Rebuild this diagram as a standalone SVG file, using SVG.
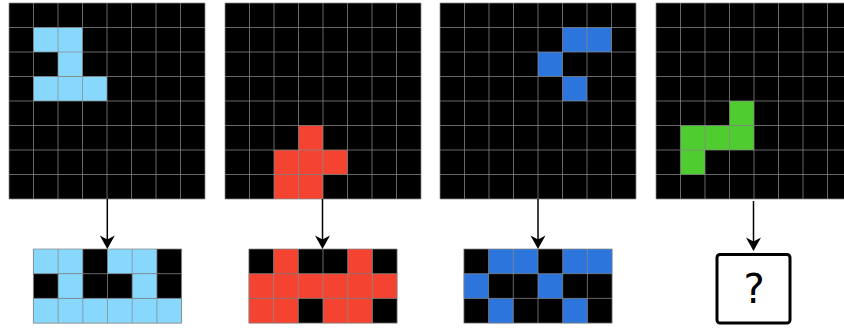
<svg xmlns="http://www.w3.org/2000/svg" xmlns:xlink="http://www.w3.org/1999/xlink" width="844" height="328" viewBox="0 0 844 328">
<style>
.bg{fill:#000}
.sky{fill:#88d8fe}
.red{fill:#f44330}
.blue{fill:#2b75dc}
.green{fill:#4ecc30}
.gl{fill:none;stroke:#8a8a8a;stroke-opacity:0.75;stroke-width:1}
.conn{stroke:#000;stroke-width:1.5;fill:none}
.qbox{fill:#fff;stroke:#000;stroke-width:3}
.q{font-family:"DejaVu Sans","Liberation Sans",sans-serif;font-size:40px;fill:#000;text-anchor:middle}
</style>
<defs>
<marker id="ah" markerUnits="userSpaceOnUse" viewBox="-10 -8 15 16" refX="0" refY="0" markerWidth="15" markerHeight="16" orient="auto">
<path d="M4,0 L-9.5,-7.5 L-5.5,0 L-9.5,7.5 Z" fill="#000"/>
</marker>
<symbol id="lines8" overflow="visible">
<path class="gl" d="M0,0H196M0,24.5H196M0,49H196M0,73.5H196M0,98H196M0,122.5H196M0,147H196M0,171.5H196M0,196H196M0,0V196M24.5,0V196M49,0V196M73.5,0V196M98,0V196M122.5,0V196M147,0V196M171.5,0V196M196,0V196"/>
</symbol>
<symbol id="lines6" overflow="visible">
<path class="gl" d="M0,0H148.2M0,24.7H148.2M0,49.4H148.2M0,74.1H148.2M0,0V74.1M24.7,0V74.1M49.4,0V74.1M74.1,0V74.1M98.8,0V74.1M123.5,0V74.1M148.2,0V74.1"/>
</symbol>
</defs>
<rect width="844" height="328" fill="#fff"/>

<g id="input1" transform="translate(9,3)">
<rect class="bg" width="196" height="196"/>
<rect class="sky" x="24.5" y="24.5" width="49" height="24.5"/>
<rect class="sky" x="49" y="49" width="24.5" height="24.5"/>
<rect class="sky" x="24.5" y="73.5" width="73.5" height="24.5"/>
<use xlink:href="#lines8"/>
</g>

<g id="input2" transform="translate(225,3)">
<rect class="bg" width="196" height="196"/>
<rect class="red" x="73.5" y="122.5" width="24.5" height="24.5"/>
<rect class="red" x="49" y="147" width="73.5" height="24.5"/>
<rect class="red" x="49" y="171.5" width="49" height="24.5"/>
<use xlink:href="#lines8"/>
</g>

<g id="input3" transform="translate(440,3)">
<rect class="bg" width="196" height="196"/>
<rect class="blue" x="122.5" y="24.5" width="49" height="24.5"/>
<rect class="blue" x="98" y="49" width="24.5" height="24.5"/>
<rect class="blue" x="122.5" y="73.5" width="24.5" height="24.5"/>
<use xlink:href="#lines8"/>
</g>

<g id="input4" transform="translate(656,3)">
<rect class="bg" width="196" height="196"/>
<rect class="green" x="73.5" y="98" width="24.5" height="24.5"/>
<rect class="green" x="24.5" y="122.5" width="73.5" height="24.5"/>
<rect class="green" x="24.5" y="147" width="24.5" height="24.5"/>
<use xlink:href="#lines8"/>
</g>

<g id="output1" transform="translate(33.4,249)">
<rect class="bg" width="148.2" height="74.1"/>
<rect class="sky" x="0" y="0" width="49.4" height="24.7"/>
<rect class="sky" x="74.1" y="0" width="49.4" height="24.7"/>
<rect class="sky" x="24.7" y="24.7" width="24.7" height="24.7"/>
<rect class="sky" x="98.8" y="24.7" width="24.7" height="24.7"/>
<rect class="sky" x="0" y="49.4" width="148.2" height="24.7"/>
<use xlink:href="#lines6"/>
</g>

<g id="output2" transform="translate(248.9,249)">
<rect class="bg" width="148.2" height="74.1"/>
<rect class="red" x="24.7" y="0" width="24.7" height="24.7"/>
<rect class="red" x="98.8" y="0" width="24.7" height="24.7"/>
<rect class="red" x="0" y="24.7" width="148.2" height="24.7"/>
<rect class="red" x="0" y="49.4" width="49.4" height="24.7"/>
<rect class="red" x="74.1" y="49.4" width="49.4" height="24.7"/>
<use xlink:href="#lines6"/>
</g>

<g id="output3" transform="translate(463.9,249)">
<rect class="bg" width="148.2" height="74.1"/>
<rect class="blue" x="24.7" y="0" width="49.4" height="24.7"/>
<rect class="blue" x="98.8" y="0" width="49.4" height="24.7"/>
<rect class="blue" x="0" y="24.7" width="24.7" height="24.7"/>
<rect class="blue" x="74.1" y="24.7" width="24.7" height="24.7"/>
<rect class="blue" x="24.7" y="49.4" width="24.7" height="24.7"/>
<rect class="blue" x="98.8" y="49.4" width="24.7" height="24.7"/>
<use xlink:href="#lines6"/>
</g>

<g id="output4">
<rect class="qbox" x="717" y="254.5" width="73" height="68.5" rx="3"/>
<text class="q" x="754" y="303">?</text>
</g>

<g id="connectors">
<line class="conn" x1="107.3" y1="199" x2="107.3" y2="245" marker-end="url(#ah)"/>
<line class="conn" x1="322.5" y1="199" x2="322.5" y2="245" marker-end="url(#ah)"/>
<line class="conn" x1="538" y1="199" x2="538" y2="245" marker-end="url(#ah)"/>
<line class="conn" x1="753.5" y1="201" x2="753.5" y2="247" marker-end="url(#ah)"/>
</g>
</svg>
